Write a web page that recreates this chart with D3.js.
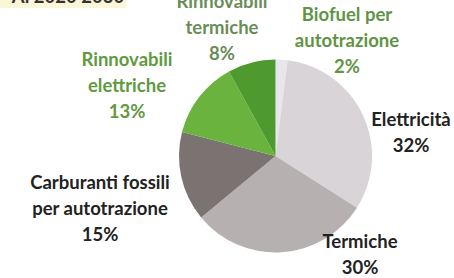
<!DOCTYPE html>
<html>
<head>
<meta charset="utf-8">
<script src="https://cdn.jsdelivr.net/npm/d3@7"></script>
<style>
  body { margin: 0; background: #fff; }
  svg { display: block; }
  text { font-family: Lato, "Open Sans", sans-serif; font-weight: bold; font-size: 18.5px; }
</style>
</head>
<body>
<div id="chart"></div>
<script>
// data (clockwise from 12 o'clock)
const categories = ["Biofuel per autotrazione", "Elettricità", "Termiche",
  "Carburanti fossili per autotrazione", "Rinnovabili elettriche", "Rinnovabili termiche"];
const shares = [2, 32, 30, 15, 13, 8];
const sliceColors = ["#e8e6ec", "#d8d4d8", "#b6b1b0", "#7b7272", "#6ab33e", "#4e9a2e"];

// label lines as they are broken in the picture
const labelLines = [
  ["Biofuel per", "autotrazione"],
  ["Elettricità"],
  ["Termiche"],
  ["Carburanti fossili", "per autotrazione"],
  ["Rinnovabili", "elettriche"],
  ["Rinnovabili", "termiche"]
];
const labelColors = ["#5f9444", "#222", "#222", "#222", "#5f9a40", "#6a8d58"];

const width = 454, height = 278;
const cx = 275.5, cy = 156, radius = 96.5;
// where each label block sits (center x, first line y), hand placed like the original
const labelAt = [[347, 15], [411, 120], [360, 242], [100, 183], [127, 60], [222, 2]];
const lineH = 26;

const svg = d3.select("#chart").append("svg")
  .attr("width", width)
  .attr("height", height);

// yellow title box, cut off at the top of the picture
svg.append("rect")
  .attr("x", 0).attr("y", -14)
  .attr("width", 126).attr("height", 22)
  .attr("fill", "#fbf6d8");
svg.append("text")
  .attr("x", 68).attr("y", 3)
  .attr("text-anchor", "middle")
  .attr("fill", "#333")
  .text("Al 2020 2030");

const pie = d3.pie().sort(null).value(d => d);
const arc = d3.arc().innerRadius(0).outerRadius(radius);

const g = svg.append("g").attr("transform", `translate(${cx},${cy})`);
g.selectAll("path")
  .data(pie(shares))
  .enter()
  .append("path")
  .attr("d", arc)
  .attr("fill", (d, i) => sliceColors[i]);

// labels
categories.forEach((c, i) => {
  const lines = labelLines[i].concat([shares[i] + "%"]);
  const t = svg.append("text")
    .attr("text-anchor", "middle")
    .attr("fill", labelColors[i]);
  lines.forEach((ln, k) => {
    t.append("tspan")
      .attr("x", labelAt[i][0])
      .attr("y", labelAt[i][1] + k * lineH)
      .attr("dy", "0.35em")
      .text(ln);
  });
});
</script>
</body>
</html>
